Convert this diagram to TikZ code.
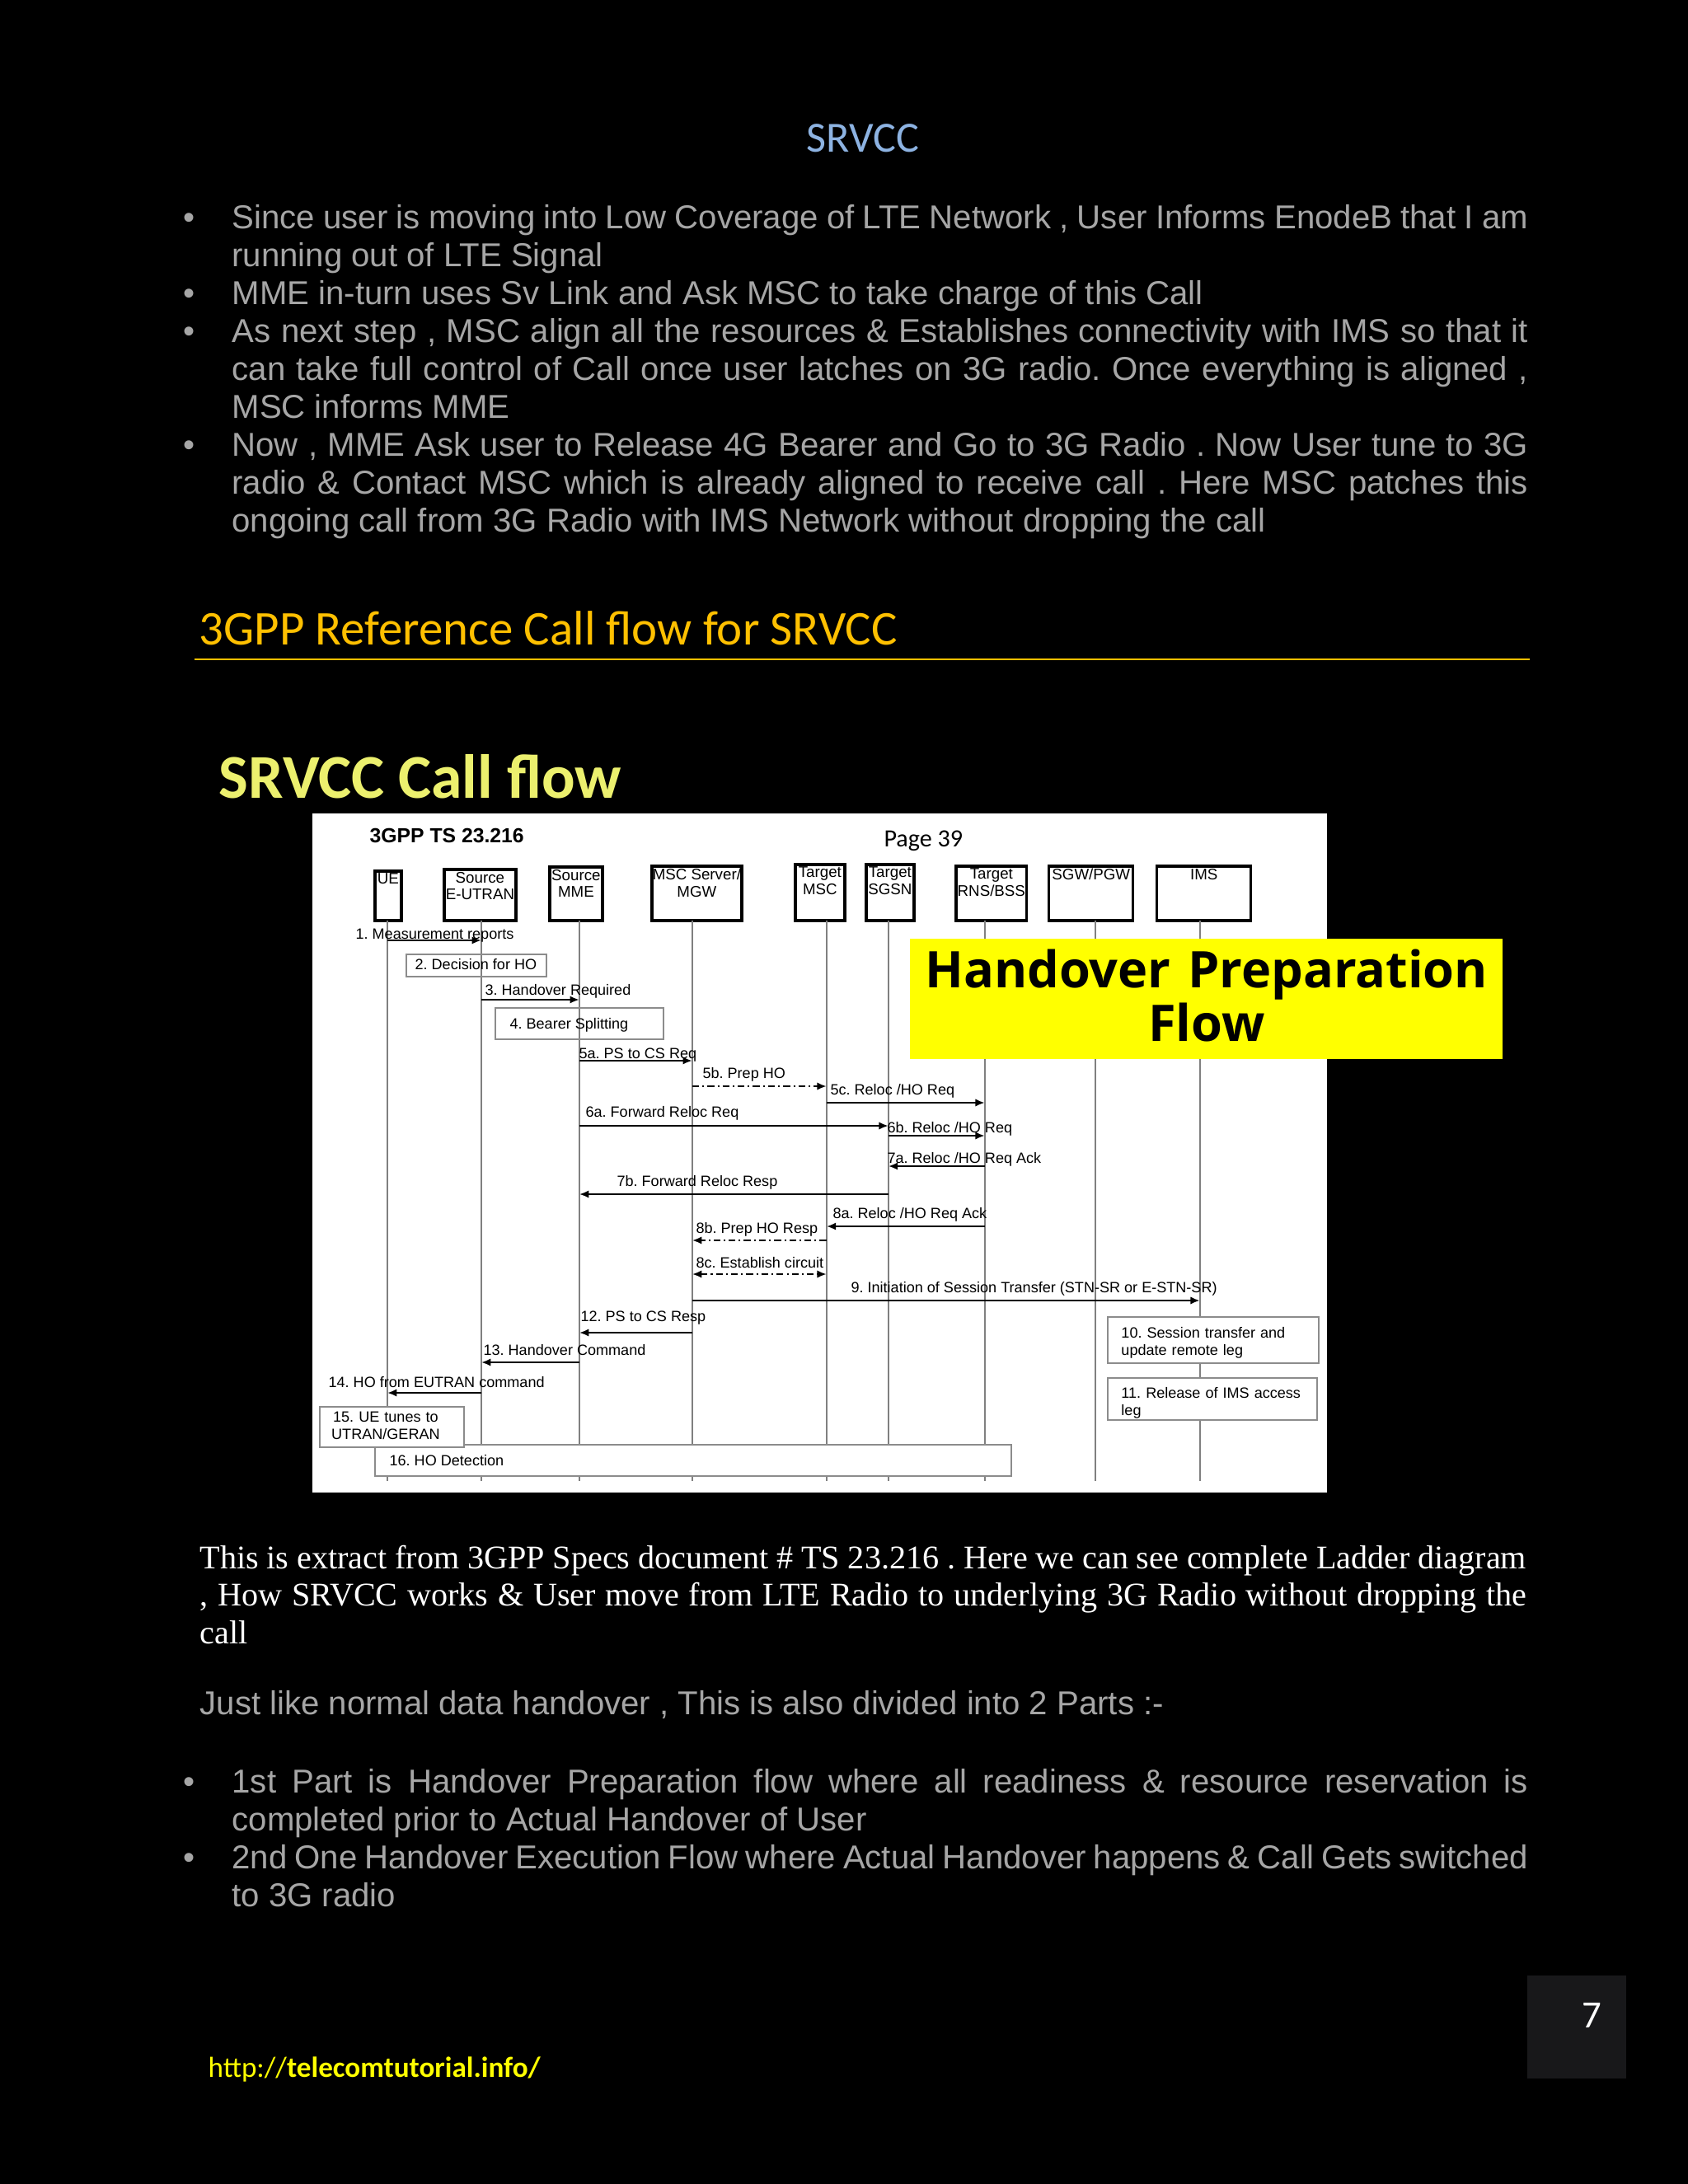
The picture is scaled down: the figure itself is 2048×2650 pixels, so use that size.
\documentclass[tikz,border=0pt]{standalone}
\usepackage{fontspec}
\usetikzlibrary{arrows.meta,fit}
\newfontfamily\arialf{Liberation Sans}
\newfontfamily\timesf{Liberation Serif}
\newfontfamily\calf{Carlito}
\newfontfamily\opensf{Open Sans}
\definecolor{txtgray}{RGB}{166,166,166}
\definecolor{titleblue}{RGB}{141,179,226}
\definecolor{headgold}{RGB}{255,192,0}
\definecolor{slideyellow}{RGB}{236,240,110}
\definecolor{boxyellow}{RGB}{255,255,0}
\definecolor{pagebox}{RGB}{24,24,26}
\frenchspacing

\begin{document}
\begin{tikzpicture}[x=0.29883pt,y=-0.29887pt,
  body/.style={font=\arialf\fontsize{12}{13.8}\selectfont, text=txtgray, anchor=base west, inner sep=0pt, text width=470pt, align=justify},
  bul/.style={font=\arialf\fontsize{12}{13.8}\selectfont, text=txtgray, anchor=base, inner sep=0pt},
  ent/.style={draw=black, line width=1pt, inner sep=0pt},
  entlbl/.style={font=\arialf\fontsize{5.6}{6.1}\selectfont, anchor=north, inner sep=1.2pt, align=center},
  life/.style={draw=black!50, line width=0.5pt},
  msg/.style={draw=black, line width=0.7pt, -{Latex[length=3.4pt,width=2.8pt]}},
  dmsg/.style={msg, dash pattern=on 2.5pt off 1.2pt on 0.6pt off 1.2pt},
  lbl/.style={font=\arialf\fontsize{5.4}{6.3}\selectfont, anchor=base west, inner sep=0pt},
  stepbox/.style={draw=black!45, line width=0.5pt, inner sep=0pt},
]
\useasboundingbox (0,0) rectangle (2048,2650);
\fill[black] (0,0) rectangle (2048,2650);

\node[font=\calf\fontsize{15.6}{18}\selectfont, text=titleblue, anchor=base, inner sep=0pt] (title) at (1047,184) {SRVCC};

\node[bul] (d1) at (230,277) {\textbullet};
\node[body] (b1) at (281,277) {Since user is moving into Low Coverage of LTE Network , User Informs EnodeB that I am\linebreak running out of LTE Signal};
\node[bul] (d2) at (230,369) {\textbullet};
\node[body] (b2) at (281,369) {MME in-turn uses Sv Link and Ask MSC to take charge of this Call};
\node[bul] (d3) at (230,415) {\textbullet};
\node[body] (b3) at (281,415) {As next step , MSC align all the resources \& Establishes connectivity with IMS so that it\linebreak can take full control of Call once user latches on 3G radio. Once everything is aligned ,\linebreak MSC informs MME};
\node[bul] (d4) at (230,553) {\textbullet};
\node[body] (b4) at (281,553) {Now , MME Ask user to Release 4G Bearer and Go to 3G Radio . Now User tune to 3G\linebreak radio \& Contact MSC which is already aligned to receive call . Here MSC patches this\linebreak ongoing call from 3G Radio with IMS Network without dropping the call};

\node[font=\calf\fontsize{17.6}{20}\selectfont, text=headgold, anchor=base west, inner sep=0pt] (head) at (241,782) {3GPP Reference Call flow for SRVCC};
\draw[headgold, line width=0.7pt] (236,800) -- (1856,800);

\node[font=\calf\bfseries\fontsize{22.6}{26}\selectfont, text=slideyellow, anchor=base west, inner sep=0pt] (slidetitle) at (265,968) {SRVCC Call flow};

\fill[white] (379,987) rectangle (1610,1811);
\node[font=\arialf\bfseries\fontsize{7.4}{8}\selectfont, anchor=base west, inner sep=0pt] (spec) at (448,1022) {3GPP TS 23.216};
\node[font=\calf\fontsize{9}{10}\selectfont, anchor=base west, inner sep=0pt] (page) at (1072,1027) {Page 39};

\node[ent, fit={(455,1057) (487,1117)}] (uebox) {};
\node[entlbl] (uelbl) at (uebox.north) {UE};
\node[ent, fit={(539,1055) (626,1117)}] (enbbox) {};
\node[entlbl] (enblbl) at (enbbox.north) {Source\\E-UTRAN};
\node[ent, fit={(667,1052) (731,1117)}] (mmebox) {};
\node[entlbl] (mmelbl) at (mmebox.north) {Source\\MME};
\node[ent, fit={(791,1051) (900,1117)}] (mscbox) {};
\node[entlbl] (msclbl) at (mscbox.north) {MSC Server/\\MGW};
\node[ent, fit={(965,1049) (1025,1117)}] (tmscbox) {};
\node[entlbl] (tmsclbl) at (tmscbox.north) {Target\\MSC};
\node[ent, fit={(1051,1049) (1109,1117)}] (sgsnbox) {};
\node[entlbl] (sgsnlbl) at (sgsnbox.north) {Target\\SGSN};
\node[ent, fit={(1160,1051) (1246,1117)}] (rnsbox) {};
\node[entlbl] (rnslbl) at (rnsbox.north) {Target\\RNS/BSS};
\node[ent, fit={(1273,1051) (1375,1117)}] (sgwbox) {};
\node[entlbl] (sgwlbl) at (sgwbox.north) {SGW/PGW};
\node[ent, fit={(1404,1051) (1518,1117)}] (imsbox) {};
\node[entlbl] (imslbl) at (imsbox.north) {IMS};

\coordinate (ue) at (470,1117);
\coordinate (enb) at (584,1117);
\coordinate (mme) at (703,1117);
\coordinate (msc) at (840,1117);
\coordinate (tmsc) at (1003,1117);
\coordinate (sgsn) at (1078,1117);
\coordinate (rns) at (1195,1117);
\coordinate (sgw) at (1329,1117);
\coordinate (ims) at (1456,1117);
\foreach \n in {ue,enb,mme,msc,tmsc,sgsn,rns,sgw,ims}
  \draw[life] (\n) -- (\n |- 0,1797);

\node[lbl] (m1) at (431,1139) {1. Measurement reports};
\draw[msg] (ue |- 0,1141) -- (enb |- 0,1141);
\node[stepbox, fit={(493,1158) (663,1185)}] (s2box) {};
\node[lbl] (s2) at (503,1176) {2. Decision for HO};
\node[lbl] (m3) at (588,1207) {3. Handover Required};
\draw[msg] (enb |- 0,1213) -- (mme |- 0,1213);
\node[stepbox, fit={(601,1223) (805,1261)}] (s4box) {};
\node[lbl] (s4) at (618,1248) {4. Bearer Splitting};
\node[lbl] (m5a) at (702,1284) {5a. PS to CS Req};
\draw[msg] (mme |- 0,1287) -- (msc |- 0,1287);
\node[lbl] (m5b) at (852,1308) {5b. Prep HO};
\draw[dmsg] (msc |- 0,1318) -- (tmsc |- 0,1318);
\node[lbl] (m5c) at (1007,1328) {5c. Reloc /HO Req};
\draw[msg] (tmsc |- 0,1338) -- (rns |- 0,1338);
\node[lbl] (m6a) at (710,1355) {6a. Forward Reloc Req};
\draw[msg] (mme |- 0,1366) -- (sgsn |- 0,1366);
\node[lbl] (m6b) at (1076,1374) {6b. Reloc /HO Req};
\draw[msg] (sgsn |- 0,1378) -- (rns |- 0,1378);
\node[lbl] (m7a) at (1076,1411) {7a. Reloc /HO Req Ack};
\draw[msg] (rns |- 0,1415) -- (sgsn |- 0,1415);
\node[lbl] (m7b) at (748,1439) {7b. Forward Reloc Resp};
\draw[msg] (sgsn |- 0,1449) -- (mme |- 0,1449);
\node[lbl] (m8a) at (1010,1478) {8a. Reloc /HO Req Ack};
\draw[msg] (rns |- 0,1488) -- (tmsc |- 0,1488);
\node[lbl] (m8b) at (844,1496) {8b. Prep HO Resp};
\draw[dmsg] (tmsc |- 0,1505) -- (msc |- 0,1505);
\node[lbl] (m8c) at (844,1538) {8c. Establish circuit};
\draw[dmsg, {Latex[length=3.4pt,width=2.8pt]}-{Latex[length=3.4pt,width=2.8pt]}] (msc |- 0,1546) -- (tmsc |- 0,1546);
\node[lbl] (m9) at (1032,1568) {9. Initiation of Session Transfer (STN-SR or E-STN-SR)};
\draw[msg] (msc |- 0,1578) -- (ims |- 0,1578);
\node[stepbox, fill=white, fit={(1344,1598) (1600,1654)}] (s10box) {};
\node[lbl, text width=75pt, align=left] (s10) at (1360,1623) {10. Session transfer and\\update remote leg};
\node[stepbox, fill=white, fit={(1344,1672) (1598,1723)}] (s11box) {};
\node[lbl, text width=75pt, align=left] (s11) at (1360,1696) {11. Release of IMS access\\leg};
\node[lbl] (m12) at (704,1603) {12. PS to CS Resp};
\draw[msg] (msc |- 0,1617) -- (mme |- 0,1617);
\node[lbl] (m13) at (586,1644) {13. Handover Command};
\draw[msg] (mme |- 0,1653) -- (enb |- 0,1653);
\node[lbl] (m14) at (398,1683) {14. HO from EUTRAN command};
\draw[msg] (enb |- 0,1690) -- (ue |- 0,1690);
\node[stepbox, fill=white, fit={(455,1753) (1227,1791)}] (s16box) {};
\node[lbl] (s16) at (472,1778) {16. HO Detection};
\node[stepbox, fill=white, fit={(388,1707) (563,1756)}] (s15box) {};
\node[lbl, anchor=base, text width=50pt, align=center] (s15) at (468,1725) {15. UE tunes to\\UTRAN/GERAN};

\node[fill=boxyellow, fit={(1104,1139) (1823,1285)}, inner sep=0pt] (hpbox) {};
\node[font=\opensf\bfseries\fontsize{18.3}{19.5}\selectfont, anchor=base, inner sep=0pt, text width=215pt, align=center] (hptext) at (1464,1198) {Handover Preparation\\Flow};

\node[font=\timesf\fontsize{12}{13.7}\selectfont, text=white, anchor=base west, inner sep=0pt, text width=481pt, align=justify] (p1) at (242,1903) {This is extract from 3GPP Specs document \# TS 23.216 . Here we can see complete Ladder diagram\linebreak , How SRVCC works \& User move from LTE Radio to underlying 3G Radio without dropping the\linebreak call};
\node[body] (p2) at (242,2080) {Just like normal data handover , This is also divided into 2 Parts :-};
\node[bul] (d5) at (230,2175) {\textbullet};
\node[body] (b5) at (281,2175) {1st Part is Handover Preparation flow where all readiness \& resource reservation is\linebreak completed prior to Actual Handover of User};
\node[bul] (d6) at (230,2267) {\textbullet};
\node[body] (b6) at (281,2267) {2nd One Handover Execution Flow where Actual Handover happens \& Call Gets switched\linebreak to 3G radio};

\fill[pagebox] (1853,2397) rectangle (1973,2522);
\node[font=\calf\fontsize{14}{16}\selectfont, text=white, anchor=base, inner sep=0pt] (pnum) at (1932,2460) {7};
\node[font=\calf\fontsize{10.5}{12}\selectfont, text=boxyellow, anchor=base west, inner sep=0pt] (link) at (252,2520) {http://\textbf{telecomtutorial.info/}};
\end{tikzpicture}
\end{document}
